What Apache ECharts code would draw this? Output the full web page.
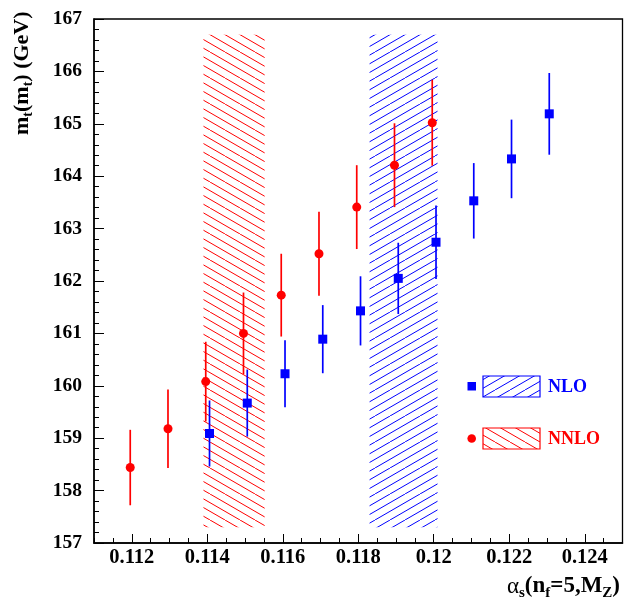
<!DOCTYPE html>
<html><head><meta charset="utf-8">
<script src="https://cdn.jsdelivr.net/npm/echarts@6/dist/echarts.min.js"></script>
<style>html,body{margin:0;padding:0;background:#fff}#c{width:625px;height:607px}</style>
</head><body><div id="c"></div>
<script>
// ---- data ----
const alphaNLO  = [0.11406, 0.11506, 0.11606, 0.11706, 0.11806, 0.11906, 0.12006, 0.12106, 0.12206, 0.12306];
const mtNLO     = [159.09, 159.67, 160.23, 160.89, 161.43, 162.05, 162.74, 163.53, 164.33, 165.19];
const errNLO    = [0.63, 0.64, 0.64, 0.65, 0.66, 0.68, 0.70, 0.72, 0.75, 0.78];
const alphaNNLO = [0.11196, 0.11296, 0.11396, 0.11496, 0.11596, 0.11696, 0.11796, 0.11896, 0.11996];
const mtNNLO    = [158.44, 159.18, 160.08, 161.00, 161.73, 162.52, 163.41, 164.21, 165.02];
const errNNLO   = [0.72, 0.75, 0.76, 0.78, 0.79, 0.80, 0.80, 0.80, 0.82];
const bandNLO   = [0.1183, 0.1201, 157.3, 166.7];
const bandNNLO  = [0.1139, 0.11552, 157.3, 166.7];
const xMajorTicks = [0.112, 0.114, 0.116, 0.118, 0.120, 0.122, 0.124];
const xRange = [0.111, 0.125];
const yRange = [157, 167];
const legendNames = ['NLO', 'NNLO'];
const xTitle = ['α', 's', '(n', 'f', '=5,M', 'Z', ')'];
const yTitle = ['m', 't', '(m', 't', ') (GeV)'];

const RED = '#ff0000', BLUE = '#0000ff';
const FONT = '"Liberation Serif", "DejaVu Serif", serif';

function hatch(color, dir) {
  const W = 45, H = 26;
  const c = document.createElement('canvas');
  c.width = W; c.height = H;
  const g = c.getContext('2d');
  g.strokeStyle = color; g.lineWidth = 1;
  for (let k = -4; k <= 4; k++) {
    g.beginPath();
    if (dir === '/') { g.moveTo(15 * k, H); g.lineTo(15 * k + W, 0); }
    else { g.moveTo(15 * k, 0); g.lineTo(15 * k + W, H); }
    g.stroke();
  }
  return { image: c, repeat: 'repeat' };
}
const patBlue = hatch(BLUE, '/');
const patRed = hatch(RED, '\\');

function bandSeries(band, pat) {
  return {
    type: 'custom', xAxisIndex: 0, yAxisIndex: 0, z: 1, silent: true,
    data: [band],
    renderItem: function (params, api) {
      const p0 = api.coord([api.value(0), api.value(3)]);
      const p1 = api.coord([api.value(1), api.value(2)]);
      return { type: 'rect', shape: { x: p0[0], y: p0[1], width: p1[0] - p0[0], height: p1[1] - p0[1] },
               style: { fill: pat, stroke: null } };
    }
  };
}
function pointSeries(xs, ys, es, color, shape) {
  return {
    type: 'custom', xAxisIndex: 0, yAxisIndex: 0, z: 5, silent: true,
    data: xs.map((x, i) => [x, ys[i], es[i]]),
    renderItem: function (params, api) {
      const x = api.value(0), y = api.value(1), e = api.value(2);
      const p = api.coord([x, y]), t = api.coord([x, y + e]), b = api.coord([x, y - e]);
      const marker = shape === 'circle'
        ? { type: 'circle', shape: { cx: p[0], cy: p[1], r: 4.5 }, style: { fill: color } }
        : { type: 'rect', shape: { x: p[0] - 4.5, y: p[1] - 4.5, width: 9, height: 9 }, style: { fill: color } };
      return { type: 'group', children: [
        { type: 'line', shape: { x1: p[0], y1: t[1], x2: p[0], y2: b[1] }, style: { stroke: color, lineWidth: 1.7 } },
        marker
      ] };
    }
  };
}

const fmt = v => String(parseFloat(Number(v).toFixed(4)));

const chart = echarts.init(document.getElementById('c'), null, { renderer: 'canvas' });
chart.setOption({
  animation: false,
  backgroundColor: '#fff',
  grid: { left: 94, top: 19, width: 528.5, height: 524, show: true, borderColor: '#000', borderWidth: 1.3, containLabel: false },
  xAxis: [
    { type: 'value', min: xRange[0], max: xRange[1], interval: 0.0005,
      axisLine: { show: true, lineStyle: { color: '#000', width: 1.5 } },
      axisTick: { show: true, inside: true, length: 5, lineStyle: { color: '#000', width: 1 } },
      axisLabel: { show: false }, splitLine: { show: false } },
    { type: 'value', min: xRange[0], max: xRange[1], position: 'bottom',
      axisLine: { show: false },
      axisTick: { show: true, inside: true, length: 9, customValues: xMajorTicks, lineStyle: { color: '#000', width: 1 } },
      axisLabel: { show: true, margin: 4, customValues: xMajorTicks, formatter: fmt,
                   fontFamily: FONT, fontWeight: 'bold', fontSize: 20.5, color: '#000' },
      splitLine: { show: false } }
  ],
  yAxis: [
    { type: 'value', min: yRange[0], max: yRange[1], interval: 1,
      axisLine: { show: true, lineStyle: { color: '#000', width: 1.5 } },
      axisTick: { show: true, inside: true, length: 10, lineStyle: { color: '#000', width: 1 } },
      minorTick: { show: true, splitNumber: 5, length: 5, lineStyle: { color: '#000', width: 1 } },
      axisLabel: { show: true, margin: 12, fontFamily: FONT, fontWeight: 'bold', fontSize: 19.5, color: '#000' },
      splitLine: { show: false } }
  ],
  series: [
    bandSeries(bandNNLO, patRed),
    bandSeries(bandNLO, patBlue),
    pointSeries(alphaNNLO, mtNNLO, errNNLO, RED, 'circle'),
    pointSeries(alphaNLO, mtNLO, errNLO, BLUE, 'rect')
  ],
  graphic: [
    // legend
    { type: 'rect', shape: { x: 467.5, y: 382, width: 8.5, height: 8.5 }, style: { fill: BLUE } },
    { type: 'rect', shape: { x: 483, y: 376, width: 57, height: 21 }, style: { fill: patBlue, stroke: BLUE, lineWidth: 1.2 } },
    { type: 'text', x: 548, y: 387, style: { text: legendNames[0], fill: BLUE, font: 'bold 18px ' + FONT, verticalAlign: 'middle' } },
    { type: 'circle', shape: { cx: 471.7, cy: 438.5, r: 4.3 }, style: { fill: RED } },
    { type: 'rect', shape: { x: 483, y: 428, width: 57, height: 21 }, style: { fill: patRed, stroke: RED, lineWidth: 1.2 } },
    { type: 'text', x: 548, y: 439, style: { text: legendNames[1], fill: RED, font: 'bold 18px ' + FONT, verticalAlign: 'middle' } },
    // x title
    { type: 'text', right: 5, top: 575, style: {
        text: '{m|' + xTitle[0] + '}{s|' + xTitle[1] + '}{b|' + xTitle[2] + '}{s|' + xTitle[3] + '}{b|' + xTitle[4] + '}{s|' + xTitle[5] + '}{b|' + xTitle[6] + '}',
        rich: {
          m: { fontFamily: FONT, fontSize: 23, fontWeight: 'normal', lineHeight: 28, fill: '#000' },
          b: { fontFamily: FONT, fontSize: 23, fontWeight: 'bold', lineHeight: 28, fill: '#000' },
          s: { fontFamily: FONT, fontSize: 15, fontWeight: 'bold', lineHeight: 14, verticalAlign: 'bottom', fill: '#000' }
        } } },
    // y title
    { type: 'text', x: 10, y: 135, rotation: Math.PI / 2, style: {
        text: '{b|' + yTitle[0] + '}{s|' + yTitle[1] + '}{b|' + yTitle[2] + '}{s|' + yTitle[3] + '}{b|' + yTitle[4] + '}',
        verticalAlign: 'top',
        rich: {
          b: { fontFamily: FONT, fontSize: 22, fontWeight: 'bold', lineHeight: 25, fill: '#000' },
          s: { fontFamily: FONT, fontSize: 14, fontWeight: 'bold', lineHeight: 14, verticalAlign: 'bottom', fill: '#000' }
        } } }
  ]
});
</script>
</body></html>
